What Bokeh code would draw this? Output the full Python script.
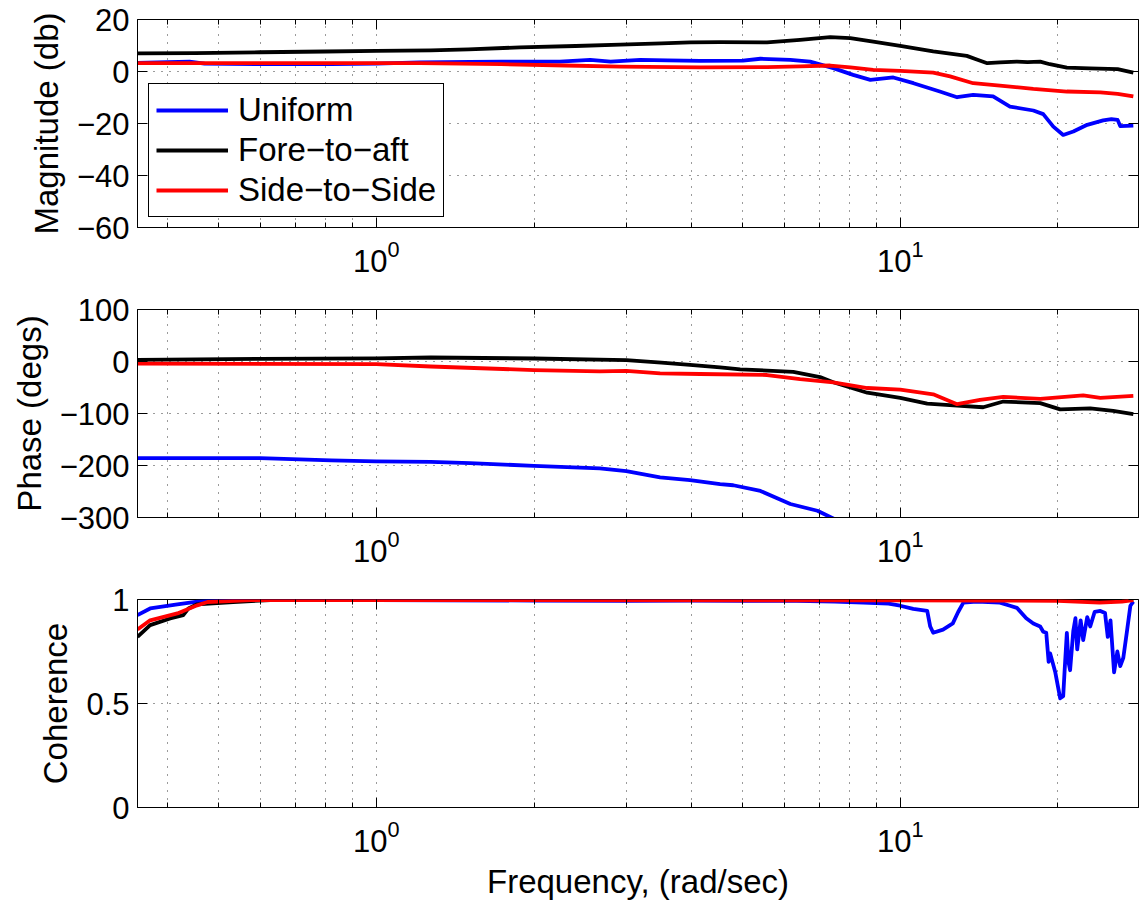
from bokeh.plotting import figure
from bokeh.layouts import column
from bokeh.models import (Range1d, FixedTicker, LogTickFormatter, CustomJSTickFormatter,
                          Legend, LegendItem, LinearAxis, LogAxis)
from bokeh.embed import file_html
from bokeh.resources import INLINE

FONT = "Liberation Sans"
TICK_FS = "31px"
LABEL_FS = "33px"
BLUE, BLACK, RED = "#0000ff", "#000000", "#ff0000"

# ---------------- data ----------------
legend_labels = ["Uniform", "Fore\u2212to\u2212aft", "Side\u2212to\u2212Side"]
x_major_ticks = [1, 10]
x_minor_ticks = [0.4, 0.5, 0.6, 0.7, 0.8, 0.9, 2, 3, 4, 5, 6, 7, 8, 9, 20]
mag_ticks = [-60, -40, -20, 0, 20]
phase_ticks = [-300, -200, -100, 0, 100]
coh_ticks = [0, 0.5, 1]

# Magnitude (db)
uni_mag_f = [0.35, 0.40, 0.44, 0.47, 0.60, 0.82, 1.0, 1.21, 1.51, 1.73, 2.24, 2.56, 2.80, 3.19, 3.60,
             4.15, 5.01, 5.41, 6.17, 6.73, 7.45, 8.13, 8.77, 9.70, 10.6, 11.9, 12.84, 13.78, 15.04,
             16.2, 17.95, 18.75, 19.6, 20.47, 21.4, 22.75, 24.4, 25.3, 26.0, 26.3, 27.86]
uni_mag = [3.3, 3.6, 3.8, 3.0, 2.8, 2.8, 3.0, 3.5, 3.7, 3.8, 3.8, 4.5, 3.8, 4.5, 4.3,
           4.1, 4.2, 4.9, 4.5, 3.8, 1.3, -1.3, -3.2, -2.3, -4.5, -7.7, -9.9, -9.0, -9.6,
           -13.5, -15.0, -16.4, -21.2, -24.4, -23.1, -20.5, -18.8, -18.3, -18.6, -21.0, -20.8]

fore_mag_f = [0.35, 0.45, 0.60, 0.80, 1.0, 1.27, 1.5, 1.88, 2.4, 2.92, 3.5, 3.97, 4.53, 5.57, 6.44,
              7.35, 8.03, 8.88, 10.0, 11.56, 13.4, 14.0, 14.66, 15.5, 16.7, 17.5, 18.5, 19.3, 20.8,
              23.0, 26.0, 27.86]
fore_mag = [7.0, 7.1, 7.4, 7.7, 7.9, 8.1, 8.5, 9.3, 9.8, 10.3, 10.8, 11.2, 11.3, 11.2, 12.2,
            13.2, 12.8, 11.5, 9.9, 7.7, 6.0, 4.6, 3.2, 3.5, 3.8, 3.6, 3.8, 2.8, 1.5,
            1.2, 0.9, -0.4]

side_mag_f = [0.35, 0.6, 1.0, 1.21, 1.73, 2.3, 2.92, 4.15, 5.57, 6.44, 7.35, 8.03, 8.88, 10.0,
              11.56, 12.45, 13.78, 15.5, 17.95, 20.8, 24.1, 26.0, 27.86]
side_mag = [3.2, 3.2, 3.2, 3.2, 2.8, 2.3, 1.9, 1.6, 1.7, 2.0, 2.3, 1.6, 0.6, 0.25,
            -0.4, -1.9, -4.5, -5.4, -6.7, -7.7, -8.0, -8.6, -9.6]

# Phase (degs)
uni_ph_f = [0.35, 0.6, 0.82, 1.0, 1.27, 1.51, 2.0, 2.67, 3.0, 3.48, 3.97, 4.53, 4.8, 5.41, 6.17,
            6.95, 7.45, 7.9]
uni_ph = [-186, -186, -190, -192, -193, -195.5, -200.6, -205.7, -211, -223, -228, -236, -238,
          -249, -274, -287, -302, -315]

fore_ph_f = [0.35, 0.6, 1.0, 1.27, 2.0, 3.0, 3.5, 3.97, 4.53, 4.95, 6.25, 7.03, 7.45, 8.65, 10.0,
             11.26, 12.84, 14.4, 15.73, 18.5, 20.2, 23.05, 25.5, 27.86]
fore_ph = [3, 5, 6, 7.7, 5.8, 2.7, -2, -6.3, -11.5, -15, -20, -30, -40, -60, -70,
           -81, -85, -88, -77, -80, -92, -90, -95, -101]

side_ph_f = [0.35, 1.0, 1.27, 2.0, 2.67, 3.0, 3.48, 4.15, 5.57, 6.44, 7.45, 8.65, 10.0, 11.56,
             12.84, 14.2, 15.73, 18.5, 22.35, 24.1, 27.86]
side_ph = [-4, -5, -9.6, -16.5, -19, -18, -23, -24, -26, -34, -40, -51, -54, -63,
           -82, -74, -68, -72, -65, -70, -66]

# Coherence
uni_coh_f = [0.35, 0.37, 0.417, 0.455, 0.5, 1.0, 2.0, 3.0, 4.0, 5.0, 6.0, 7.5, 8.5, 9.5, 10.0,
             10.59, 11.26, 11.41, 11.56, 12.07, 12.6, 12.9, 13.2, 14.0, 15.5, 16.2, 16.7, 17.4,
             17.95, 18.5, 18.75, 19.0, 19.2, 19.33, 19.77, 20.2, 20.47, 20.6, 20.8, 20.95, 21.1,
             21.4, 21.6, 21.77, 22.1, 22.35, 22.75, 23.05, 23.5, 24.1, 24.6, 24.9, 25.2, 25.6,
             25.97, 26.3, 26.66, 27.1, 27.5, 27.86]
uni_coh = [0.925, 0.957, 0.977, 0.99, 0.997, 0.997, 0.995, 0.993, 0.995, 0.993, 0.995, 0.99,
           0.985, 0.98, 0.97, 0.955, 0.945, 0.87, 0.84, 0.855, 0.885, 0.94, 0.985, 0.99, 0.985,
           0.97, 0.96, 0.91, 0.885, 0.87, 0.845, 0.84, 0.70, 0.741, 0.65, 0.525, 0.535, 0.66,
           0.84, 0.70, 0.66, 0.85, 0.91, 0.76, 0.90, 0.805, 0.915, 0.87, 0.94, 0.945, 0.935,
           0.82, 0.90, 0.65, 0.75, 0.68, 0.72, 0.85, 0.97, 0.99]

fore_coh_f = [0.35, 0.37, 0.404, 0.428, 0.438, 0.455, 0.533, 0.628, 5.0, 15.0, 27.86]
fore_coh = [0.82, 0.877, 0.909, 0.925, 0.957, 0.977, 0.988, 0.997, 0.997, 0.997, 0.997]

side_coh_f = [0.35, 0.37, 0.417, 0.455, 0.476, 0.575, 10.0, 15.0, 20.0, 24.0, 26.5, 27.86]
side_coh = [0.856, 0.9, 0.933, 0.972, 0.988, 0.997, 0.996, 0.995, 0.993, 0.985, 0.99, 0.997]

# ---------------- helpers ----------------
minus_fmt = "return String(tick).replace('-', '\u2212');"


def make_fig(yr, yticks, ylabel, btop, bbottom, xlabel=None):
    p = figure(x_axis_type="log", x_range=Range1d(0.35, 28.5), y_range=Range1d(*yr),
               frame_width=1001, frame_height=208,
               min_border_left=137, min_border_right=5,
               min_border_top=btop, min_border_bottom=bbottom,
               output_backend="svg", toolbar_location=None)
    p.outline_line_color = "black"
    p.outline_line_width = 1
    p.outline_line_alpha = 1
    p.background_fill_color = "white"

    xt = FixedTicker(ticks=x_major_ticks, minor_ticks=x_minor_ticks)
    yt = FixedTicker(ticks=yticks)

    xa = p.xaxis[0]
    xa.ticker = xt
    xa.formatter = LogTickFormatter()
    ya = p.yaxis[0]
    ya.ticker = yt
    ya.formatter = CustomJSTickFormatter(code=minus_fmt)
    for ax in (xa, ya):
        ax.axis_line_color = "black"
        ax.major_tick_in = 10
        ax.major_tick_out = 0
        ax.minor_tick_in = 5
        ax.minor_tick_out = 0
        ax.major_tick_line_color = "black"
        ax.minor_tick_line_color = "black"
        ax.major_label_text_font = FONT
        ax.major_label_text_font_size = TICK_FS
        ax.major_label_text_color = "black"
        ax.axis_label_text_font = FONT
        ax.axis_label_text_font_size = LABEL_FS
        ax.axis_label_text_font_style = "normal"
        ax.axis_label_text_color = "black"
    xa.major_label_standoff = 12
    ya.major_label_standoff = 8
    ya.axis_label = ylabel
    ya.axis_label_standoff = 9
    if xlabel:
        xa.axis_label = xlabel
        xa.axis_label_standoff = 8

    # box ticks on top and right
    top = LogAxis(ticker=xt, formatter=CustomJSTickFormatter(code="return '';"))
    right = LinearAxis(ticker=yt, formatter=CustomJSTickFormatter(code="return '';"))
    for ax in (top, right):
        ax.axis_line_color = None
        ax.major_tick_in = 10
        ax.major_tick_out = 0
        ax.minor_tick_in = 5
        ax.minor_tick_out = 0
        ax.major_label_standoff = 0
        ax.major_label_text_font_size = "1px"
    p.add_layout(top, "above")
    p.add_layout(right, "right")

    for g in (p.xgrid[0], p.ygrid[0]):
        g.grid_line_color = "#222222"
        g.grid_line_dash = "1 7"
        g.grid_line_width = 1
        g.grid_line_alpha = 0.9
    p.xgrid[0].minor_grid_line_color = "#222222"
    p.xgrid[0].minor_grid_line_dash = "1 7"
    p.xgrid[0].minor_grid_line_alpha = 0.9
    return p


LW = 3.8

# ---- magnitude ----
p1 = make_fig((-60, 20), mag_ticks, "Magnitude (db)", 19, 55)
r1 = p1.line(uni_mag_f, uni_mag, color=BLUE, line_width=LW, line_join="round")
r2 = p1.line(fore_mag_f, fore_mag, color=BLACK, line_width=LW, line_join="round")
r3 = p1.line(side_mag_f, side_mag, color=RED, line_width=LW, line_join="round")
leg = Legend(items=[LegendItem(label=legend_labels[0], renderers=[r1]),
                    LegendItem(label=legend_labels[1], renderers=[r2]),
                    LegendItem(label=legend_labels[2], renderers=[r3])],
             location=(11, 10), margin=0, padding=7, spacing=2,
             glyph_width=72, glyph_height=30, label_standoff=10, label_height=33,
             label_text_font=FONT, label_text_font_size=LABEL_FS, label_text_color="black",
             border_line_color="black", border_line_width=1, border_line_alpha=1,
             background_fill_color="white", background_fill_alpha=1)
p1.add_layout(leg)

# ---- phase ----
p2 = make_fig((-300, 100), phase_ticks, "Phase (degs)", 27, 55)
p2.line(uni_ph_f, uni_ph, color=BLUE, line_width=LW, line_join="round")
p2.line(fore_ph_f, fore_ph, color=BLACK, line_width=LW, line_join="round")
p2.line(side_ph_f, side_ph, color=RED, line_width=LW, line_join="round")

# ---- coherence ----
p3 = make_fig((0, 1), coh_ticks, "Coherence", 27, 92, xlabel="Frequency, (rad/sec)")
p3.line(uni_coh_f, uni_coh, color=BLUE, line_width=LW, line_join="round")
p3.line(fore_coh_f, fore_coh, color=BLACK, line_width=LW, line_join="round")
p3.line(side_coh_f, side_coh, color=RED, line_width=LW, line_join="round")

layout = column(p1, p2, p3, spacing=0)
open("out.html", "w").write(file_html(layout, INLINE))
